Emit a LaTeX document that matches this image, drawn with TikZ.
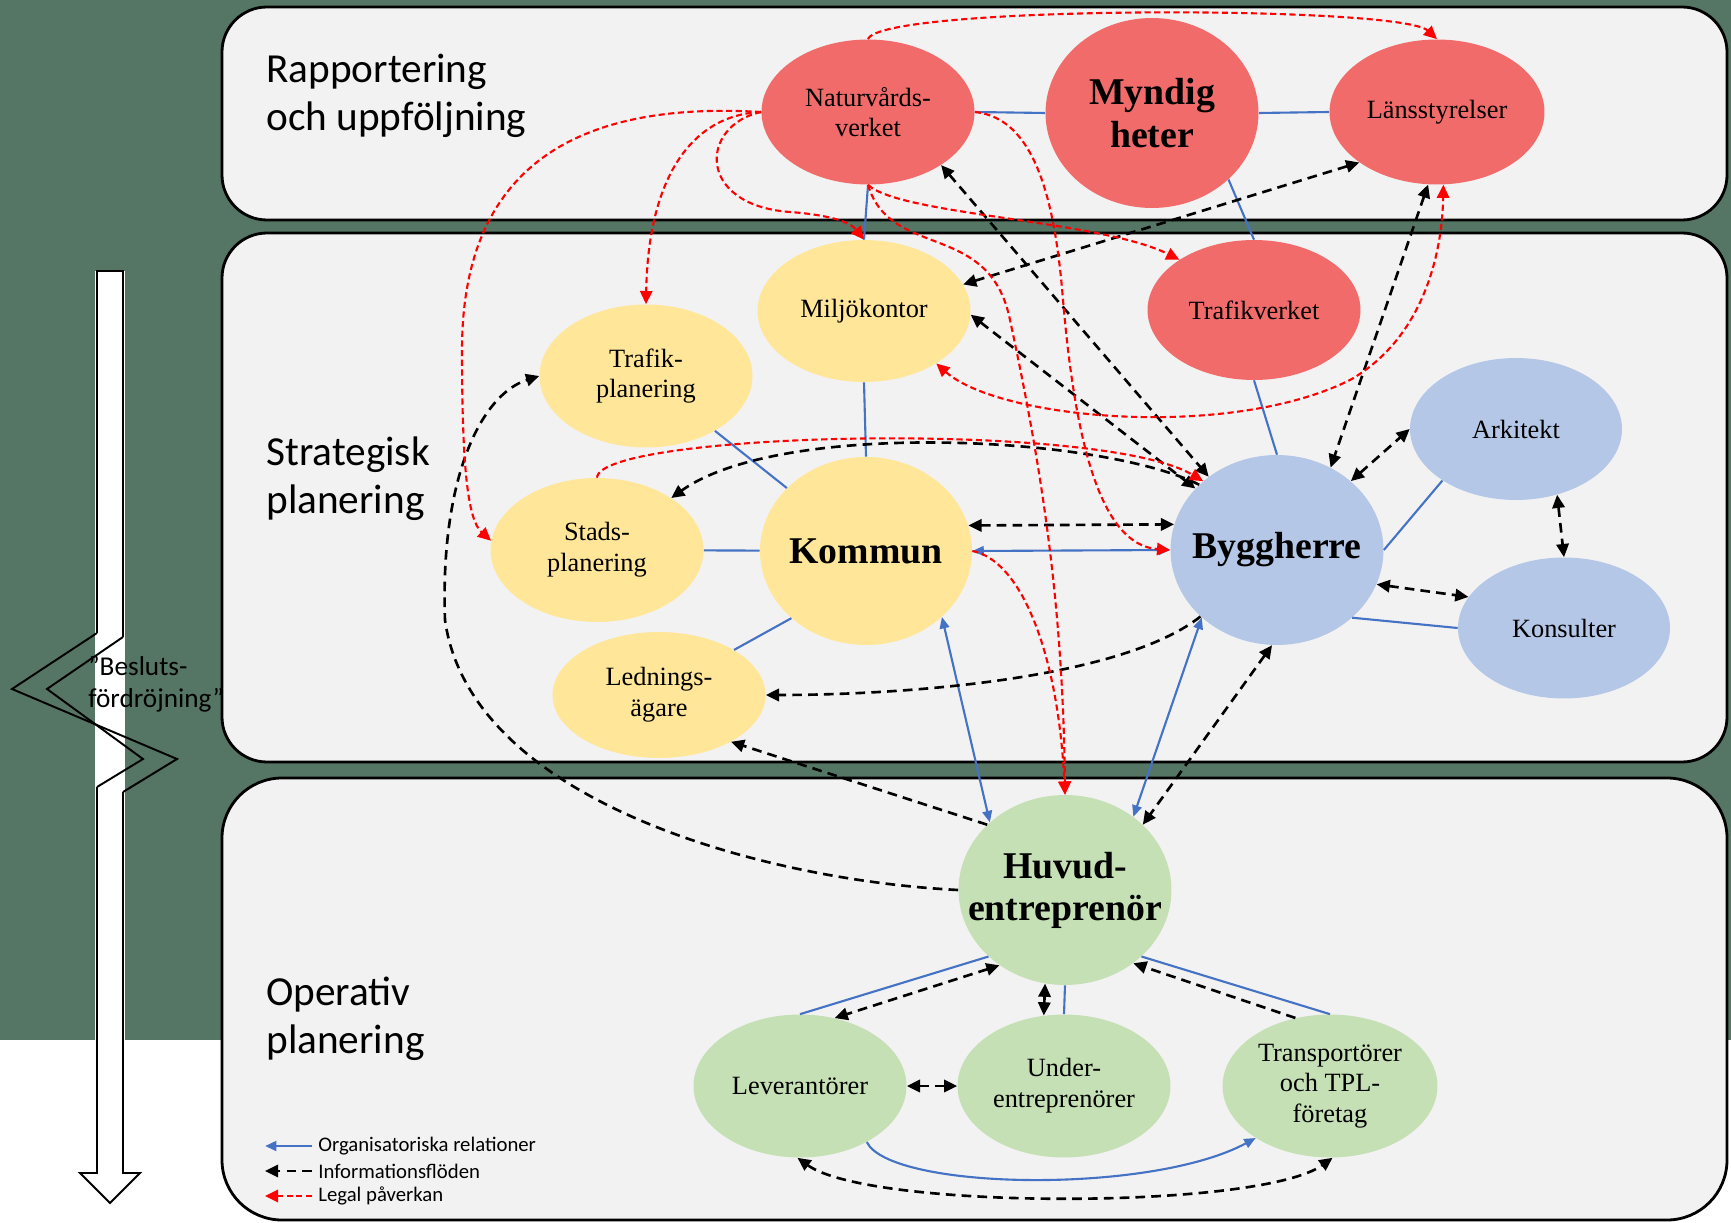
\documentclass[tikz,border=0pt]{standalone}
\usepackage{fontspec}
\setmainfont{Liberation Serif}
\newfontfamily\calfont{Carlito}
\usetikzlibrary{shapes.geometric,arrows.meta}
\definecolor{bggreen}{HTML}{557565}
\definecolor{panelgray}{HTML}{F2F2F2}
\definecolor{cred}{HTML}{F26B6B}
\definecolor{cyel}{HTML}{FFE699}
\definecolor{cblu}{HTML}{B4C7E7}
\definecolor{cgrn}{HTML}{C5E0B4}
\definecolor{lblue}{HTML}{4472C4}
\definecolor{lred}{HTML}{FF0000}
\begin{document}
\begin{tikzpicture}[x=0.02cm,y=-0.02cm]
\tikzset{
  tipk/.tip={Triangle[length=7.5pt,width=7pt]},
  tipb/.tip={Triangle[length=6.5pt,width=5.5pt]},
  ell/.style={ellipse, inner sep=0pt, draw=none, minimum width=4.26cm, minimum height=2.88cm},
  lbl/.style={align=center, inner sep=0pt, text=black, font=\fontsize{15}{17.5}\selectfont},
  biglbl/.style={align=center, inner sep=0pt, text=black, font=\fontsize{21.5}{24}\selectfont\bfseries},
  sect/.style={anchor=west, align=left, inner sep=0pt, text=black, font=\calfont\fontsize{23.5}{27.5}\selectfont},
  leg/.style={anchor=west, inner sep=0pt, text=black, font=\calfont\fontsize{11.8}{13}\selectfont},
  panelbox/.style={fill=panelgray, draw=black, line width=1.6pt},
  orgln/.style={draw=lblue, line width=1.2pt},
  infoln/.style={draw=black, line width=1.5pt, dash pattern=on 5.5pt off 3.5pt},
  legalln/.style={draw=lred, line width=1.2pt, dash pattern=on 3.5pt off 2pt},
  arrln/.style={draw=black, line width=1.1pt, line join=miter}
}
\useasboundingbox (0,0) rectangle (1731,1223);
% background
\fill[white] (0,0) rectangle (1731,1223);
\fill[bggreen] (0,0) rectangle (1731,1040);
% panels
\draw[panelbox, rounded corners=0.9cm] (222,7) rectangle (1727,220);
\draw[panelbox, rounded corners=0.9cm] (222,233) rectangle (1727,762);
\draw[panelbox, rounded corners=1.2cm] (222,778) rectangle (1727,1220);
% section labels
\node[sect] (s1) at (266,96) {Rapportering\\och uppföljning};
\node[sect] (s2) at (266,479) {Strategisk\\planering};
\node[sect] (s3) at (266,1019) {Operativ\\planering};
% left time arrow
\fill[white] (95,271) rectangle (125,1173);
\fill[white] (80,1173) -- (110,1203) -- (140,1173) -- cycle;
\draw[arrln] (97,633) -- (97,271) -- (123,271) -- (123,637);
\draw[arrln] (97,633) -- (12,689) -- (177,759) -- (123,792);
\draw[arrln] (123,637) -- (47,689) -- (143,759) -- (97,787);
\draw[arrln] (97,787) -- (97,1173) -- (80,1173) -- (110,1203) -- (140,1173) -- (123,1173) -- (123,792);
\node[anchor=west, align=left, inner sep=0pt, font=\calfont\fontsize{15.5}{18}\selectfont] (besl) at (88,684) {”Besluts-\\fördröjning”};
% nodes
\node[ell, fill=cred, minimum width=4.26cm, minimum height=2.9cm] (nv) at (868,112) {};
\node[lbl] (nvT) at (nv) {Naturvårds-\\verket};
\node[ell, fill=cred, minimum width=4.26cm, minimum height=3.8cm] (myn) at (1152,113) {};
\node[biglbl] (mynT) at (myn) {Myndig\\heter};
\node[ell, fill=cred, minimum width=4.3cm, minimum height=2.9cm] (lan) at (1437,112) {};
\node[lbl] (lanT) at (lan) {Länsstyrelser};
\node[ell, fill=cyel, minimum width=4.26cm, minimum height=2.84cm] (mil) at (864,311) {};
\node[lbl] (milT) at (mil) {Miljökontor};
\node[ell, fill=cred, minimum width=4.26cm, minimum height=2.8cm] (tv) at (1254,310) {};
\node[lbl] (tvT) at (tv) {Trafikverket};
\node[ell, fill=cyel, minimum width=4.26cm, minimum height=2.86cm] (tp) at (646,376) {};
\node[lbl] (tpT) at (tp) {Trafik-\\planering};
\node[ell, fill=cblu, minimum width=4.24cm, minimum height=2.84cm] (ark) at (1516,429) {};
\node[lbl] (arkT) at (ark) {Arkitekt};
\node[ell, fill=cyel, minimum width=4.26cm, minimum height=2.88cm] (sp) at (597,550) {};
\node[lbl] (spT) at (sp) {Stads-\\planering};
\node[ell, fill=cyel, minimum width=4.24cm, minimum height=3.76cm] (kom) at (866,551) {};
\node[biglbl] (komT) at (kom) {Kommun};
\node[ell, fill=cblu, minimum width=4.26cm, minimum height=3.8cm] (byg) at (1277,550) {};
\node[biglbl] (bygT) at (byg) {Byggherre};
\node[ell, fill=cblu, minimum width=4.24cm, minimum height=2.82cm] (kon) at (1564,628) {};
\node[lbl] (konT) at (kon) {Konsulter};
\node[ell, fill=cyel, minimum width=4.26cm, minimum height=2.52cm] (led) at (659,695) {};
\node[lbl] (ledT) at (led) {Lednings-\\ägare};
\node[ell, fill=cgrn, minimum width=4.26cm, minimum height=3.8cm] (huv) at (1065,890) {};
\node[biglbl] (huvT) at (huv) {Huvud-\\entreprenör};
\node[ell, fill=cgrn, minimum width=4.26cm, minimum height=2.86cm] (lev) at (800,1086) {};
\node[lbl] (levT) at (lev) {Leverantörer};
\node[ell, fill=cgrn, minimum width=4.26cm, minimum height=2.86cm] (und) at (1064,1086) {};
\node[lbl] (undT) at (und) {Under-\\entreprenörer};
\node[ell, fill=cgrn, minimum width=4.3cm, minimum height=2.86cm] (tra) at (1330,1086) {};
\node[lbl] (traT) at (tra) {Transportörer\\och TPL-\\företag};
% organisational relations (blue)
\draw[orgln] (nv.east) -- (myn.west);
\draw[orgln] (myn.east) -- (lan.west);
\draw[orgln] (nv.south) -- (mil.north);
\draw[orgln] (myn.-41) -- (tv.north);
\draw[orgln] (mil.south) -- (kom.north);
\draw[orgln] (tp) -- (kom);
\draw[orgln] (sp) -- (kom);
\draw[orgln] (led.31) -- (kom.222);
\draw[orgln] (tv.south) -- (byg.north);
\draw[orgln] (byg.east) -- (ark.215);
\draw[orgln] (byg.-42) -- (kon.west);
\draw[orgln, tipb-tipb] (kom.east) -- (byg.west);
\draw[orgln, tipb-tipb] (kom.-41) -- (huv.138);
\draw[orgln, tipb-tipb] (byg.222) -- (huv.47);
\draw[orgln] (huv.221) -- (lev.north);
\draw[orgln] (huv.south) -- (und.north);
\draw[orgln] (huv.-41) -- (tra.north);
\draw[orgln, -tipb] (lev.-40) .. controls (890,1190) and (1150,1195) .. (tra.215);
% information flows (black dashed)
\draw[infoln, tipk-tipk] (kom.14) -- (byg.166);
\draw[infoln, tipk-tipk] (byg.43) -- (ark.west);
\draw[infoln, tipk-tipk] (ark.-58) -- (kon.north);
\draw[infoln, tipk-tipk] (byg.-19) -- (kon.162);
\draw[infoln, tipk-tipk] (nv.-36) -- (byg.133);
\draw[infoln, tipk-tipk] (mil.15) -- (lan.213);
\draw[infoln, tipk-tipk] (mil.-2) -- (byg.143);
\draw[infoln, tipk-tipk] (lan.-97) -- (byg.57);
\draw[infoln, -tipk] (byg.140) .. controls (1100,435) and (780,420) .. (sp.35);
\draw[infoln, -tipk] (byg.221) .. controls (1120,680) and (900,695) .. (led.east);
\draw[infoln, -tipk] (huv.140) -- (led.-33);
\draw[infoln, -tipk] (huv.west) .. controls (760,880) and (470,800) .. (445,620) .. controls (440,480) and (480,395) .. (tp.west);
\draw[infoln, tipk-tipk] (byg.-93) -- (huv.40);
\draw[infoln, tipk-tipk] (huv.229) -- (lev.63);
\draw[infoln, tipk-tipk] (huv.258) -- (und.106);
\draw[infoln, -tipk] (tra.117) -- (huv.-47);
\draw[infoln, tipk-tipk] (lev.east) -- (und.west);
\draw[infoln, tipk-tipk] (lev.-92) .. controls (870,1210) and (1260,1210) .. (tra.-88);
% legal influence (red dashed)
\draw[legalln, -tipk] (nv.north) .. controls (880,5) and (1400,5) .. (lan.north);
\draw[legalln, -tipk] (nv.west) .. controls (560,100) and (462,180) .. (462,350) .. controls (462,470) and (468,520) .. (sp.175);
\draw[legalln, -tipk] (nv.west) .. controls (690,115) and (648,180) .. (tp.north);
\draw[legalln, -tipk] (nv.west) .. controls (700,125) and (695,205) .. (790,212) .. controls (830,215) and (850,222) .. (mil.north);
\draw[legalln, -tipk] (nv.south) .. controls (900,215) and (1100,220) .. (tv.146);
\draw[legalln, -tipk] (nv.south) .. controls (890,260) and (990,220) .. (1010,320) .. controls (1040,460) and (1063,600) .. (huv.north);
\draw[legalln, -tipk] (nv.east) .. controls (1035,118) and (1055,200) .. (1063,300) .. controls (1075,440) and (1100,545) .. (byg.west);
\draw[legalln, -tipk] (sp.north) .. controls (600,432) and (1100,420) .. (byg.137);
\draw[legalln, tipk-tipk] (mil.-36) .. controls (1000,420) and (1230,440) .. (1350,380) .. controls (1420,340) and (1442,260) .. (lan.-85);
\draw[legalln, -tipk] (kom.east) .. controls (1020,560) and (1058,650) .. (huv.north);
% legend
\coordinate (lg1a) at (312,1146); \coordinate (lg1b) at (265,1146);
\coordinate (lg2a) at (312,1171); \coordinate (lg2b) at (265,1171);
\coordinate (lg3a) at (312,1196); \coordinate (lg3b) at (265,1196);
\draw[orgln, line width=1.6pt, -tipb] (lg1a) -- (lg1b);
\draw[infoln, -tipk] (lg2a) -- (lg2b);
\draw[legalln, line width=1.5pt, -tipk] (lg3a) -- (lg3b);
\node[leg] (lt1) at (318,1146) {Organisatoriska relationer};
\node[leg] (lt2) at (318,1171) {Informationsflöden};
\node[leg] (lt3) at (318,1196) {Legal påverkan};
\end{tikzpicture}
\end{document}
